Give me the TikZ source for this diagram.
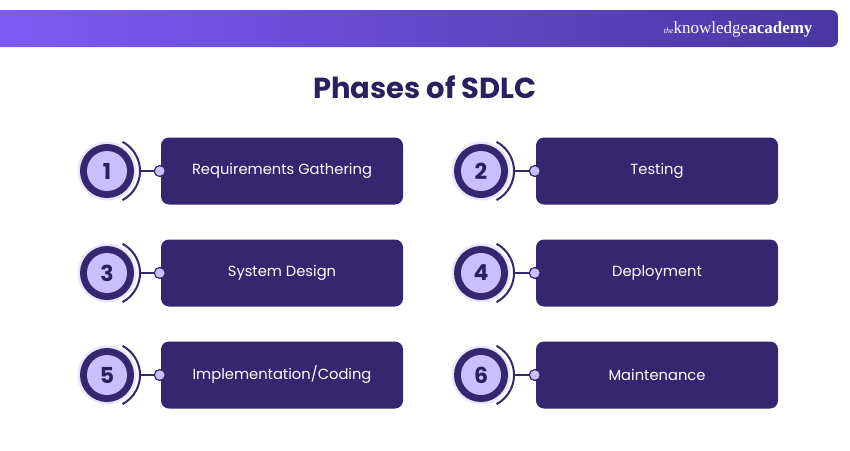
\documentclass[tikz,border=0pt]{standalone}
\usepackage{fontspec}
\setmainfont{Poppins}
\newfontfamily\logofont{Liberation Serif}
\definecolor{dk}{HTML}{35266F}
\definecolor{lt}{HTML}{C9BFFF}
\definecolor{ttl}{HTML}{2B1F5E}
\definecolor{gl}{HTML}{7D5CF6}
\definecolor{gr}{HTML}{4A36A3}
\begin{document}
\begin{tikzpicture}[x=1pt,y=-1pt,
  phasebox/.style={draw=none,fill=dk,rounded corners=8pt,minimum width=242pt,minimum height=67pt,text=white,font=\fontsize{14.7}{17}\selectfont},
  numring/.style={circle,fill=dk,minimum size=54pt,inner sep=0pt},
  numin/.style={circle,fill=lt,minimum size=40pt,inner sep=0pt,text=ttl,font=\bfseries\fontsize{22}{26}\selectfont},
  dotnode/.style={circle,fill=lt,draw=dk,line width=1.2pt,minimum size=11pt,inner sep=0pt}]
\useasboundingbox (0,0) rectangle (850,450);
\fill[white] (0,0) rectangle (850,450);
\begin{scope}
\clip[rounded corners=7pt] (-20,10) rectangle (838,47);
\shade[left color=gl,right color=gr] (-20,10) rectangle (838,47);
\end{scope}
\node[anchor=east,text=white] (logo) at (816,29) {{\logofont\itshape\fontsize{8}{9}\selectfont the}{\logofont\fontsize{17}{19}\selectfont knowledge\textbf{academy}}};
\node[text=ttl,font=\bfseries\fontsize{29}{33}\selectfont] (title) at (425,87) {Phases of SDLC};
\foreach \n/\cx/\bx/\cy/\t in {1/107/282/171/{Requirements Gathering},2/481/657/171/{Testing},3/107/282/273/{System Design},4/481/657/273/{Deployment},5/107/282/375/{Implementation/Coding},6/481/657/375/{Maintenance}}{
  \fill[lt!40] (\cx,\cy) circle (29.5);
  \node[numring] (r\n) at (\cx,\cy) {};
  \node[numin] (c\n) at (\cx,\cy) {\n};
  \draw[dk,line width=2pt] ([shift={(-62:33)}]\cx,\cy) arc[start angle=-62,end angle=62,radius=33];
  \node[phasebox] (b\n) at (\bx,\cy) {\t};
  \node[dotnode] (d\n) at ([xshift=-1pt]b\n.west) {};
  \draw[dk,line width=1.3pt] (r\n.east) ++(6,0) coordinate (s\n) -- (d\n.west);
}
\end{tikzpicture}
\end{document}
